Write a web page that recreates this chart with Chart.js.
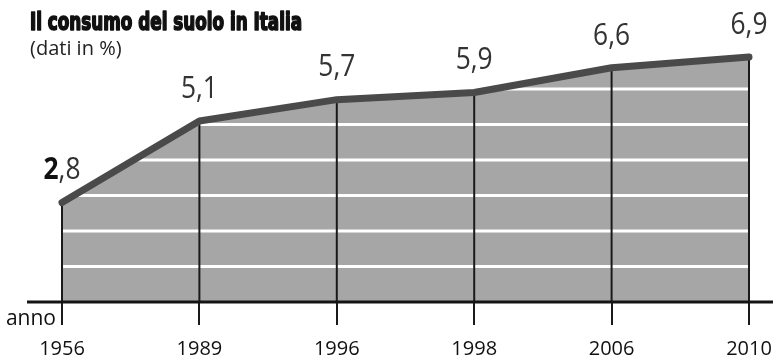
<!DOCTYPE html>
<html lang="it">
<head>
<meta charset="utf-8">
<title>Il consumo del suolo in Italia</title>
<script src="https://cdn.jsdelivr.net/npm/chart.js@4/dist/chart.umd.min.js"></script>
<style>
  html, body { margin: 0; padding: 0; background: #fff; }
  #wrap { position: relative; width: 773px; height: 360px; }
</style>
</head>
<body>
<div id="wrap"><canvas id="chart" width="773" height="360"></canvas></div>
<script>
// Consumo del suolo in Italia, quota di superficie (%)
const titleText = 'Il consumo del suolo in Italia';
const subtitleText = '(dati in %)';
const axisName = 'anno';
const years = ['1956', '1989', '1996', '1998', '2006', '2010'];
const values = [2.8, 5.1, 5.7, 5.9, 6.6, 6.9];
const bandLines = [1, 2, 3, 4, 5, 6];

const fmt = v => v.toFixed(1).replace('.', ',');

// Decorations: white bands inside the area, drop lines, baseline and texts
const decor = {
  id: 'decor',
  afterDatasetDraw(chart, args) {
    if (args.index !== 0) return;
    const ctx = chart.ctx;
    const pts = args.meta.data;
    const y = chart.scales.y;
    const area = chart.chartArea;
    const bottom = y.getPixelForValue(0);

    // white horizontal bands, clipped to the filled area
    ctx.save();
    ctx.beginPath();
    ctx.moveTo(pts[0].x, bottom);
    pts.forEach(p => ctx.lineTo(p.x, p.y));
    ctx.lineTo(pts[pts.length - 1].x, bottom);
    ctx.closePath();
    ctx.clip();
    ctx.strokeStyle = '#ffffff';
    ctx.lineWidth = 3;
    bandLines.forEach(v => {
      const py = y.getPixelForValue(v);
      ctx.beginPath();
      ctx.moveTo(area.left - 5, py);
      ctx.lineTo(area.right + 5, py);
      ctx.stroke();
    });
    ctx.restore();

    // vertical drop lines from each point to the baseline
    ctx.save();
    ctx.strokeStyle = '#1a1a1a';
    ctx.lineWidth = 2;
    pts.forEach(p => {
      ctx.beginPath();
      ctx.moveTo(p.x, p.y);
      ctx.lineTo(p.x, bottom);
      ctx.stroke();
    });
    ctx.restore();
  },
  afterDatasetsDraw(chart) {
    const ctx = chart.ctx;
    const y = chart.scales.y;
    const bottom = y.getPixelForValue(0);
    const pts = chart.getDatasetMeta(1).data;

    // baseline
    ctx.save();
    ctx.strokeStyle = '#141414';
    ctx.lineWidth = 3;
    ctx.beginPath();
    ctx.moveTo(27, bottom);
    ctx.lineTo(chart.width, bottom);
    ctx.stroke();
    ctx.restore();

    // value labels
    ctx.save();
    ctx.textBaseline = 'middle';
    const sx = 0.85;
    pts.forEach((p, i) => {
      const txt = fmt(values[i]);
      const ly = p.y - 32;
      if (i === 0) {
        const parts = txt.split(',');
        const boldFont = 'bold 31px "Open Sans"';
        const regFont = '31px "Open Sans"';
        ctx.font = boldFont;
        const w1 = ctx.measureText(parts[0]).width;
        ctx.font = regFont;
        const w2 = ctx.measureText(',' + parts[1]).width;
        const total = (w1 + w2) * sx;
        ctx.save();
        ctx.translate(p.x - total / 2, ly);
        ctx.scale(sx, 1);
        ctx.textAlign = 'left';
        ctx.font = boldFont;
        ctx.fillStyle = '#111';
        ctx.fillText(parts[0], 0, 0);
        ctx.font = regFont;
        ctx.fillStyle = '#333';
        ctx.fillText(',' + parts[1], w1, 0);
        ctx.restore();
      } else {
        ctx.save();
        ctx.translate(p.x, ly);
        ctx.scale(sx, 1);
        ctx.textAlign = 'center';
        ctx.font = '31px "Open Sans"';
        ctx.fillStyle = '#333';
        ctx.fillText(txt, 0, 0);
        ctx.restore();
      }
    });
    ctx.restore();

    // axis name
    ctx.save();
    ctx.font = '21px "Open Sans"';
    ctx.fillStyle = '#111';
    ctx.textAlign = 'right';
    ctx.textBaseline = 'alphabetic';
    ctx.fillText(axisName, 56, 325);
    ctx.restore();

    // title and subtitle
    ctx.save();
    ctx.font = 'bold 24px "DejaVu Sans Condensed"';
    const tw = ctx.measureText(titleText).width;
    ctx.translate(30, 30);
    ctx.scale(272 / tw, 1);
    ctx.fillStyle = '#111';
    ctx.strokeStyle = '#111';
    ctx.lineWidth = 1.6;
    ctx.lineJoin = 'round';
    ctx.textAlign = 'left';
    ctx.textBaseline = 'alphabetic';
    ctx.fillText(titleText, 0, 0);
    ctx.strokeText(titleText, 0, 0);
    ctx.restore();

    ctx.save();
    ctx.font = '20px "Open Sans"';
    ctx.fillStyle = '#222';
    ctx.textAlign = 'left';
    ctx.textBaseline = 'alphabetic';
    ctx.fillText(subtitleText, 30, 55);
    ctx.restore();
  }
};

new Chart(document.getElementById('chart'), {
  type: 'line',
  data: {
    labels: years,
    datasets: [
      {
        data: values,
        fill: 'origin',
        backgroundColor: '#a6a6a6',
        borderWidth: 0,
        pointRadius: 0,
        tension: 0,
        order: 2
      },
      {
        data: values,
        fill: false,
        borderColor: '#4a4a4a',
        borderWidth: 7,
        borderCapStyle: 'round',
        borderJoinStyle: 'round',
        pointRadius: 0,
        tension: 0,
        clip: false,
        order: 1
      }
    ]
  },
  options: {
    responsive: false,
    animation: false,
    events: [],
    layout: { padding: { left: 62, right: 24, top: 18, bottom: 0 } },
    plugins: {
      legend: { display: false },
      tooltip: { enabled: false },
      title: { display: false }
    },
    scales: {
      x: {
        offset: false,
        border: { display: false },
        grid: {
          drawOnChartArea: false,
          drawTicks: true,
          tickLength: 23,
          color: '#1a1a1a',
          lineWidth: 2
        },
        ticks: {
          color: '#111',
          padding: 14,
          maxRotation: 0,
          autoSkip: false,
          font: { family: '"Open Sans"', size: 20, lineHeight: 1 }
        },
        afterFit(scale) {
          scale.height = 58;
          scale.paddingLeft = 0;
          scale.paddingRight = 0;
          scale.paddingTop = 0;
          scale.paddingBottom = 0;
        }
      },
      y: {
        display: false,
        min: 0,
        max: 8
      }
    }
  },
  plugins: [decor]
});
</script>
</body>
</html>
